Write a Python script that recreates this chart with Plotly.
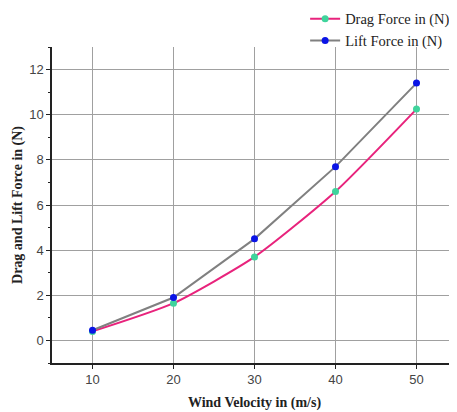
import plotly.graph_objects as go

velocity = [10, 20, 30, 40, 50]
drag_force = [0.4, 1.65, 3.7, 6.6, 10.25]
lift_force = [0.45, 1.9, 4.5, 7.7, 11.4]
x_ticks = [10, 20, 30, 40, 50]
y_ticks = [0, 2, 4, 6, 8, 10, 12]

fig = go.Figure()
fig.add_trace(go.Scatter(
    x=velocity, y=drag_force, mode="lines+markers", name="Drag Force in (N)",
    line=dict(color="#e8237c", width=2, shape="spline", smoothing=0.6),
    marker=dict(color="#3fd49c", size=7),
))
fig.add_trace(go.Scatter(
    x=velocity, y=lift_force, mode="lines+markers", name="Lift Force in (N)",
    line=dict(color="#808080", width=2),
    marker=dict(color="#0a14e6", size=7),
))

fig.update_layout(
    width=457, height=412,
    margin=dict(l=44, r=8, t=39, b=57, autoexpand=False),
    paper_bgcolor="white", plot_bgcolor="white",
    font=dict(family="Liberation Serif", color="black"),
    legend=dict(x=0.625, y=1.14, xanchor="left", yanchor="top",
                font=dict(family="Liberation Serif", size=14.5, color="#222"),
                tracegroupgap=0, itemwidth=30, bgcolor="rgba(0,0,0,0)"),
    xaxis=dict(
        range=[5, 55], tickvals=x_ticks, showgrid=True, gridcolor="#a0a0a0", gridwidth=1,
        showline=True, linecolor="#222", linewidth=1.5, ticks="outside", ticklen=4,
        tickcolor="#222", zeroline=False, automargin=False,
        tickfont=dict(family="Liberation Sans", size=13, color="#444"),
        title=dict(text="<b>Wind Velocity in (m/s)</b>",
                   font=dict(family="Liberation Serif", size=14, color="#222"), standoff=11),
    ),
    yaxis=dict(
        range=[-1, 13], tickvals=y_ticks, showgrid=True, gridcolor="#a0a0a0", gridwidth=1,
        showline=True, linecolor="#222", linewidth=1.5, ticks="outside", ticklen=4,
        tickcolor="#222", zeroline=False, automargin=False,
        minor=dict(tickvals=[-1, 1, 3, 5, 7, 9, 11, 13], ticks="outside", ticklen=2,
                   tickcolor="#222", showgrid=False),
        tickfont=dict(family="Liberation Sans", size=13, color="#444"),
        title=dict(text="<b>Drag and Lift Force in (N)</b>",
                   font=dict(family="Liberation Serif", size=14, color="#222"), standoff=3),
    ),
)

fig.write_html("out.html")
